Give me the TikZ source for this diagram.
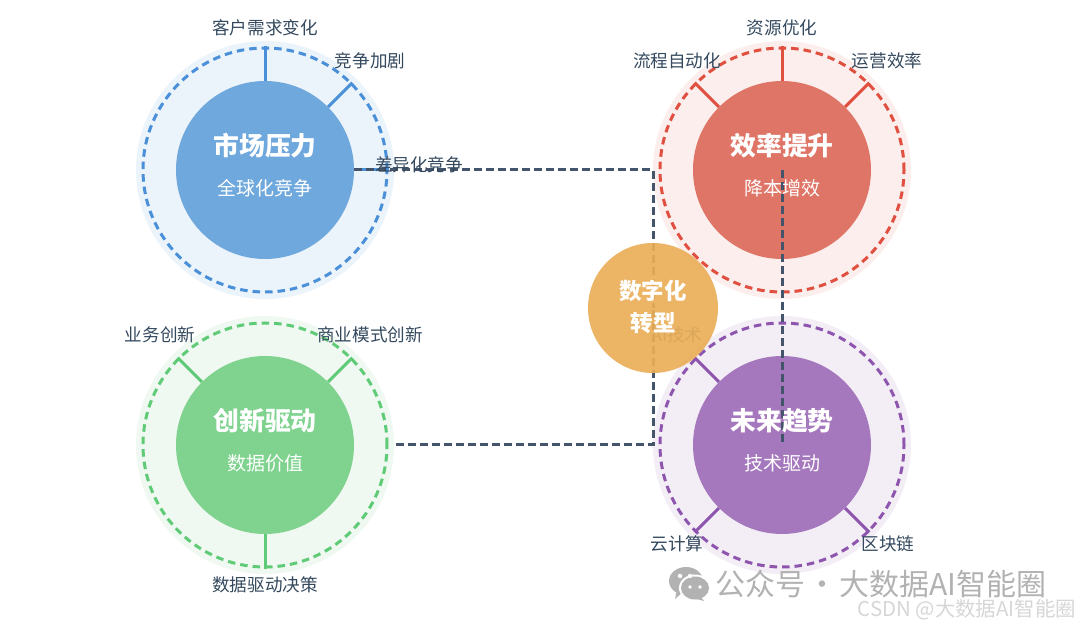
\documentclass[tikz,border=0pt]{standalone}
\usepackage{fontspec}
\setmainfont{Noto Sans CJK SC}
\usetikzlibrary{calc,positioning}
\definecolor{linkcol}{HTML}{44546A}
\definecolor{labelcol}{HTML}{34495E}
\definecolor{bluefill}{HTML}{6FA8DC}
\definecolor{bluering}{HTML}{4A90D9}
\definecolor{bluepale}{HTML}{EBF3FB}
\definecolor{redfill}{HTML}{DF7566}
\definecolor{redring}{HTML}{E04F3F}
\definecolor{redpale}{HTML}{FCEEEC}
\definecolor{greenfill}{HTML}{7FD38F}
\definecolor{greenring}{HTML}{5FCB77}
\definecolor{greenpale}{HTML}{EFF8F1}
\definecolor{purplefill}{HTML}{A578BD}
\definecolor{purplering}{HTML}{8E55AE}
\definecolor{purplepale}{HTML}{F3EEF6}
\definecolor{hubfill}{HTML}{EAAE58}
\tikzset{
  pale/.style={circle, minimum size=258pt, inner sep=0pt},
  ring/.style={circle, minimum size=244pt, inner sep=0pt, line width=3pt, dash pattern=on 7.5pt off 5pt},
  core/.style={circle, minimum size=178pt, inner sep=0pt},
  spoke/.style={line width=3pt},
  link/.style={line width=3pt, linkcol, dash pattern=on 8pt off 4pt},
  tag/.style={text=labelcol, font=\fontsize{17.6}{20}\selectfont},
  headtext/.style={text=white, font=\fontsize{25.8}{28}\selectfont\bfseries},
  subtext/.style={text=white, font=\fontsize{19}{21}\selectfont},
  wmtext/.style={text=gray!60, font=\fontsize{30}{32}\selectfont}
}
\begin{document}
\begin{tikzpicture}[x=1pt, y=-1pt]
        \useasboundingbox (0,0) rectangle (1080,628);
        % four groups
        \node [pale, fill=bluepale] (marketpale) at (265,170) {};
        \node [ring, draw=bluering] (marketring) at (265,170) {};
        \node [core, fill=bluefill] (market) at (265,170) {};
        \node [pale, fill=redpale] (effpale) at (782,170) {};
        \node [ring, draw=redring] (effring) at (782,170) {};
        \node [core, fill=redfill] (eff) at (782,170) {};
        \node [pale, fill=greenpale] (innopale) at (265,445) {};
        \node [ring, draw=greenring] (innoring) at (265,445) {};
        \node [core, fill=greenfill] (inno) at (265,445) {};
        \node [pale, fill=purplepale] (futurepale) at (782,445) {};
        \node [ring, draw=purplering] (futurering) at (782,445) {};
        \node [core, fill=purplefill] (future) at (782,445) {};

        % spokes
        \foreach \ang in {90,45,0}
          \draw [spoke, bluering] (market.\ang) -- (marketring.\ang);
        \foreach \ang in {135,90,45}
          \draw [spoke, redring] (eff.\ang) -- (effring.\ang);
        \foreach \ang in {135,45,270}
          \draw [spoke, greenring] (inno.\ang) -- (innoring.\ang);
        \foreach \ang in {135,225,315}
          \draw [spoke, purplering] (future.\ang) -- (futurering.\ang);

        % links to the middle
        \coordinate (hub) at (653,308);
        \coordinate (innoout) at (396,445);
        \draw [link] (market.east) -| (hub);
        \draw [link] (innoout) -| (hub);
        \draw [link] (eff.center) -- (future.center);

        \node [headtext] (markettitle) at (265,146) {市场压力};
        \node [subtext] (marketsub) at (265,188) {全球化竞争};
        \node [headtext] (efftitle) at (782,146) {效率提升};
        \node [subtext] (effsub) at (782,188) {降本增效};
        \node [headtext] (innotitle) at (265,421) {创新驱动};
        \node [subtext] (innosub) at (265,463) {数据价值};
        \node [headtext] (futuretitle) at (782,421) {未来趋势};
        \node [subtext] (futuresub) at (782,463) {技术驱动};

        \node [tag] (demand) at (265,28) {客户需求变化};
        \node [tag] (rivalry) at (370,61) {竞争加剧};
        \node [tag] (differ) at (419,165) {差异化竞争};
        \node [tag] (resource) at (782,28) {资源优化};
        \node [tag] (process) at (677,61) {流程自动化};
        \node [tag] (operate) at (887,61) {运营效率};
        \node [tag] (bizinno) at (160,335) {业务创新};
        \node [tag] (model) at (370,335) {商业模式创新};
        \node [tag] (decision) at (265,585) {数据驱动决策};
        \node [tag] (aitech) at (677,335) {AI技术};
        \node [tag] (cloud) at (677,544) {云计算};
        \node [tag] (chain) at (888,544) {区块链};

        \node [circle, minimum size=130pt, inner sep=0pt, fill=hubfill, fill opacity=.92] (digital) at (hub) {};
        \node [headtext, font=\fontsize{22.5}{32}\selectfont\bfseries, align=center] (digitaltext) at (653,307) {数字化\\转型};

        % watermark
        \fill [gray!60] (686,581) ellipse (17 and 14);
        \fill [gray!60] (683,592) -- (675,599) -- (677,589) -- cycle;
        \fill [white] (695,588) ellipse (16 and 13.5);
        \fill [gray!60] (695,588) ellipse (14 and 11.5);
        \fill [gray!60] (700,596) -- (704,601) -- (693,598) -- cycle;
        \fill [white] (680,576) circle (2.2) (690,576) circle (2.2) (690,587) circle (1.9) (700,587) circle (1.9);
        \node [wmtext, anchor=west, inner sep=0pt] (wmark) at (715,584) {公众号\hspace{2pt}·\hspace{2pt}大数据AI智能圈};
        \node [text=gray!32, font=\fontsize{20.4}{22}\selectfont, anchor=east, inner sep=0pt] (csdn) at (1076,610) {CSDN @大数据AI智能圈};
\end{tikzpicture}
\end{document}
